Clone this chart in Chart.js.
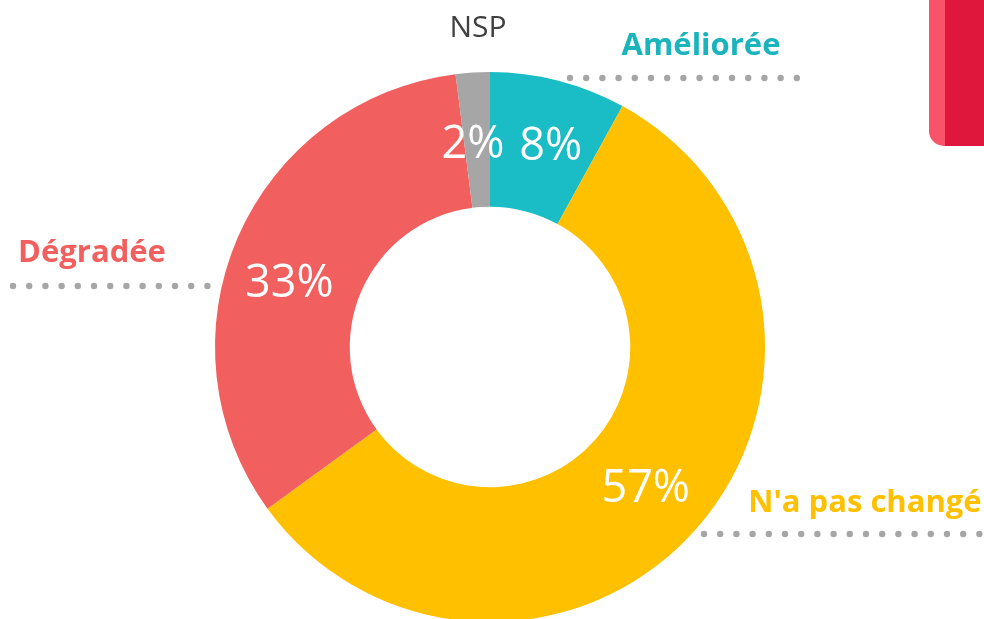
<!DOCTYPE html>
<html>
<head>
<meta charset="utf-8">
<script src="https://cdn.jsdelivr.net/npm/chart.js@4/dist/chart.umd.min.js"></script>
<style>
  html, body { margin: 0; padding: 0; background: #fff; overflow: hidden; }
  #wrap { width: 984px; height: 650px; }
</style>
</head>
<body>
<div id="wrap"><canvas id="donut" width="984" height="650"></canvas></div>
<script>
// chart data
const categories = ["Améliorée", "N'a pas changé", "Dégradée", "NSP"];
const shares = [8, 57, 33, 2];
const sliceColors = ["#1abcc5", "#ffc000", "#f25f5f", "#a6a6a6"];
const labelColors = ["#1ab4bd", "#ffc000", "#f25f5f", "#404040"];

// where the outside labels + dotted leaders go
const callouts = [
  { x: 701, y: 55, bold: true, dots: { from: 570, to: 797, y: 78 } },
  { x: 865, y: 512, bold: true, dots: { from: 704, to: 1000, y: 534 } },
  { x: 92, y: 262, bold: true, dots: { from: 13, to: 209, y: 286 } },
  { x: 478, y: 37, bold: false, dots: null }
];
// nudge for the % labels inside the ring
const pctNudge = [[9, 1], [0, 5], [-10, 20], [-4, 5]];

const decorPlugin = {
  id: "decor",
  beforeDraw(chart) {
    const ctx = chart.ctx;
    ctx.save();
    // red tab in the top right corner
    ctx.fillStyle = "#f9536a";
    ctx.beginPath();
    ctx.moveTo(929, -5);
    ctx.lineTo(960, -5);
    ctx.lineTo(960, 146);
    ctx.lineTo(944, 146);
    ctx.arcTo(929, 146, 929, 131, 15);
    ctx.closePath();
    ctx.fill();
    ctx.fillStyle = "#e0173c";
    ctx.fillRect(945, -5, 60, 151);
    ctx.restore();
  },
  afterDatasetsDraw(chart) {
    const ctx = chart.ctx;
    const arcs = chart.getDatasetMeta(0).data;
    ctx.save();
    ctx.textAlign = "center";
    ctx.textBaseline = "middle";
    ctx.fillStyle = "#fff";
    ctx.font = "45px 'Open Sans'";
    arcs.forEach((arc, i) => {
      const p = arc.getCenterPoint();
      ctx.fillText(shares[i] + "%", p.x + pctNudge[i][0], p.y + pctNudge[i][1]);
    });

    ctx.textBaseline = "alphabetic";
    callouts.forEach((c, i) => {
      ctx.fillStyle = labelColors[i];
      ctx.font = (c.bold ? "bold 31px" : "30px") + " 'Open Sans'";
      ctx.fillText(categories[i], c.x, c.y);
      if (c.dots) {
        ctx.fillStyle = "#a6a6a6";
        for (let x = c.dots.from; x <= c.dots.to + 0.5; x += 16.2) {
          ctx.beginPath();
          ctx.arc(x, c.dots.y, 3.2, 0, Math.PI * 2);
          ctx.fill();
        }
      }
    });
    ctx.restore();
  }
};

new Chart(document.getElementById("donut"), {
  type: "doughnut",
  data: {
    labels: categories,
    datasets: [{
      data: shares,
      backgroundColor: sliceColors,
      borderWidth: 0
    }]
  },
  options: {
    responsive: false,
    animation: false,
    cutout: "51%",
    layout: { padding: { left: 215, right: 219, top: 72, bottom: 28 } },
    plugins: {
      legend: { display: false },
      tooltip: { enabled: false }
    }
  },
  plugins: [decorPlugin]
});
</script>
</body>
</html>
